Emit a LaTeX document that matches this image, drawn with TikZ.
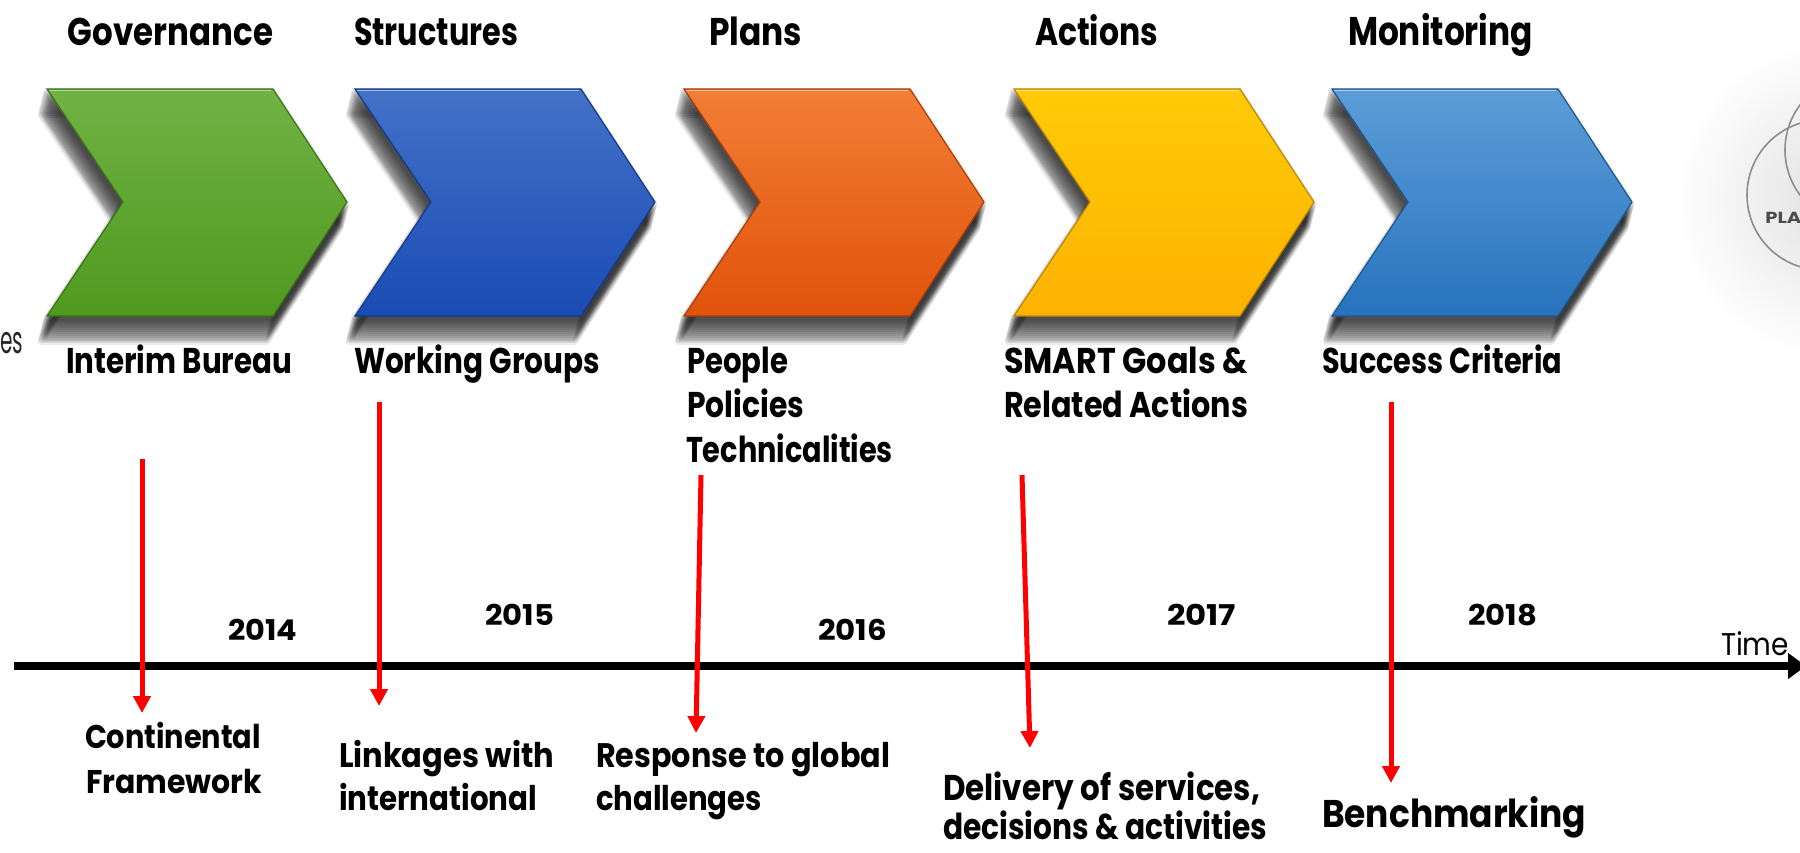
\documentclass[tikz,border=0pt]{standalone}
\usepackage{fontspec}
\setmainfont{Poppins}
\usepackage{graphicx}
\usetikzlibrary{arrows.meta}
\newlength\pxu
\setlength\pxu{0.5pt}
\newcommand{\fitw}[2]{\resizebox{#1\pxu}{\height}{#2}}
\newcommand{\fsz}[1]{\fontsize{#1}{#1}\selectfont}
\definecolor{grnT}{HTML}{71B245}
\definecolor{grnB}{HTML}{4E9A1E}
\definecolor{bluT}{HTML}{4472C8}
\definecolor{bluB}{HTML}{194BB4}
\definecolor{orgT}{HTML}{F27E36}
\definecolor{orgB}{HTML}{E1520A}
\definecolor{yelT}{HTML}{FFCA08}
\definecolor{yelB}{HTML}{FDB200}
\definecolor{lbuT}{HTML}{5C9DD8}
\definecolor{lbuB}{HTML}{2873BE}
\tikzset{
  txt/.style={inner sep=0pt, outer sep=0pt, anchor=base west, font=\bfseries},
  thin/.style={inner sep=0pt, outer sep=0pt, font=\mdseries},
  redarr/.style={draw=red, line width=2.5pt, -{Triangle[length=8.5pt,width=8.5pt]}},
  axisarr/.style={draw=black, line width=4pt, -{Triangle[length=9pt,width=12.5pt]}},
  vennc/.style={draw=black!45, line width=0.8pt},
}
\newcommand{\chevshape}[1]{(#1,89) -- ++(226,0) -- ++(74,113) -- ++(-74,114) -- ++(-226,0) -- ++(76,-114) -- cycle}
\newcommand{\chev}[3]{%
  \foreach \s in {2,4,...,26}{%
    \draw[black, fill=black, opacity=0.075, line width=6\pxu, line join=round, shift={(-0.25*\s,\s)}] \chevshape{#1};}
  \shadedraw[top color=#2, bottom color=#3, draw=#3!75!black, line width=1.2\pxu] \chevshape{#1};
  \draw[white, opacity=0.5, line width=1\pxu] (#1+2,90) -- ++(222,0);
}
\begin{document}
\begin{tikzpicture}[x=0.5pt,y=-0.5pt]
\useasboundingbox (0,0) rectangle (1800,852);
\begin{scope}
\clip (0,0) rectangle (1800,852);
\fill[white] (0,0) rectangle (1800,852);

% venn fragment on the right
\shade[inner color=black!12, outer color=white] (1835,200) circle [radius=80pt];
\draw[vennc] (1860,150) circle [radius=37.5pt];
\draw[vennc] (1822,195) circle [radius=37.5pt];
\node[inner sep=0pt, anchor=base west, font=\bfseries, text=black!70] (pla) at (1765,223) {\fsz{8}\fitw{36}{PLA}};

% chevrons
\chev{47}{grnT}{grnB}
\chev{355}{bluT}{bluB}
\chev{684}{orgT}{orgB}
\chev{1014}{yelT}{yelB}
\chev{1332}{lbuT}{lbuB}

% left fragment
\node[thin, anchor=base east, text=black!85] (frag) at (23,353) {\fsz{19}\fitw{23}{es}};

% headings
\node[txt] (h1) at (68,45) {\fsz{19.3}\fitw{205}{Governance}};
\node[txt] (h2) at (354,45) {\fsz{19.3}\fitw{164}{Structures}};
\node[txt] (h3) at (709,45) {\fsz{19.3}\fitw{93}{Plans}};
\node[txt] (h4) at (1035,45) {\fsz{19.3}\fitw{123}{Actions}};
\node[txt] (h5) at (1348,45) {\fsz{20}\fitw{185}{Monitoring}};

% labels under chevrons
\node[txt] (l1) at (66,373) {\fsz{17.9}\fitw{226}{Interim Bureau}};
\node[txt] (l2) at (354,373) {\fsz{17.9}\fitw{246}{Working Groups}};
\node[txt] (l3a) at (687,373) {\fsz{17.9}\fitw{101}{People}};
\node[txt] (l3b) at (687,417) {\fsz{17.9}\fitw{117}{Policies}};
\node[txt] (l3c) at (686,462) {\fsz{17.9}\fitw{207}{Technicalities}};
\node[txt] (l4a) at (1004,373) {\fsz{17.9}\fitw{244}{SMART Goals \&}};
\node[txt] (l4b) at (1004,417) {\fsz{17.9}\fitw{244}{Related Actions}};
\node[txt] (l5) at (1322,373) {\fsz{17.9}\fitw{240}{Success Criteria}};

% years
\node[txt] (y14) at (228,640) {\fsz{14.3}\fitw{69}{2014}};
\node[txt] (y15) at (485,625) {\fsz{14.3}\fitw{69}{2015}};
\node[txt] (y16) at (818,640) {\fsz{14.3}\fitw{69}{2016}};
\node[txt] (y17) at (1167,625) {\fsz{14.3}\fitw{69}{2017}};
\node[txt] (y18) at (1468,625) {\fsz{14.3}\fitw{69}{2018}};

% time axis
\coordinate (ax0) at (14,666);
\coordinate (ax1) at (1806,666);
\draw[axisarr] (ax0) -- (ax1);
\node[thin, anchor=base west] (time) at (1721,655) {\fsz{15.7}\fitw{68}{Time}};

% outcome labels
\node[txt] (o1a) at (85,748) {\fsz{16.4}\fitw{176}{Continental}};
\node[txt] (o1b) at (86,793) {\fsz{16.4}\fitw{176}{Framework}};
\node[txt] (o2a) at (339,767) {\fsz{17}\fitw{215}{Linkages with}};
\node[txt] (o2b) at (339,810) {\fsz{17}\fitw{198}{international}};
\node[txt] (o3a) at (596,767) {\fsz{17}\fitw{294}{Response to global}};
\node[txt] (o3b) at (596,810) {\fsz{17}\fitw{166}{challenges}};
\node[txt] (o4a) at (943,800) {\fsz{17.9}\fitw{317}{Delivery of services,}};
\node[txt] (o4b) at (943,839) {\fsz{17.9}\raisebox{0pt}[\height][0pt]{\fitw{324}{decisions \& activities}}};
\node[txt] (o5) at (1322,827) {\fsz{19.3}\fitw{264}{Benchmarking}};

% red arrows
\coordinate (r1a) at (142,459);  \coordinate (r1b) at (142,713);
\coordinate (r2a) at (379,402);  \coordinate (r2b) at (379,706);
\coordinate (r3a) at (701,475);  \coordinate (r3b) at (696,733);
\coordinate (r4a) at (1022,475); \coordinate (r4b) at (1030,748);
\coordinate (r5a) at (1391,402); \coordinate (r5b) at (1391,783);
\draw[redarr] (r1a) -- (r1b);
\draw[redarr] (r2a) -- (r2b);
\draw[redarr] (r3a) -- (r3b);
\draw[redarr] (r4a) -- (r4b);
\draw[redarr] (r5a) -- (r5b);
\end{scope}
\end{tikzpicture}
\end{document}
